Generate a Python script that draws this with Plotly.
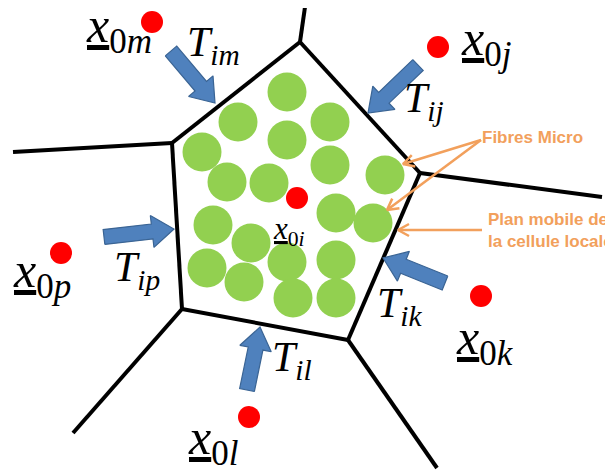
import plotly.graph_objects as go

# ---- data (pixel-space diagram coordinates) ----
cell_x = [300, 420, 348, 182, 172]
cell_y = [42, 173, 340, 309, 143]
spoke_end_x = [306, 602, 437, 73, 13]
spoke_end_y = [0, 197, 468, 433, 152]

fiber_x = [287, 238, 330, 287, 202, 330, 385, 227, 269,
           336, 373, 213, 251, 207, 287, 336, 244, 293, 336]
fiber_y = [92, 122, 122, 140, 152, 165, 175, 182, 183,
           213, 223, 225, 243, 268, 262, 260, 282, 298, 298]

site_names = ["i", "m", "j", "p", "l", "k"]
site_x = [297, 152, 438, 61, 249, 481]
site_y = [198, 22, 47, 253, 417, 296]

# left edge / glyph-centre of the site labels
site_label_x = [275, 88, 463, 15, 190, 458]
site_label_y = [231, 33, 46, 278, 445, 345]

flux_names = ["im", "ij", "ip", "il", "ik"]
flux_tail_x = [171, 418, 104, 247, 445]
flux_tail_y = [51, 65, 237, 390, 283]
flux_tip_x = [215, 368, 174, 260, 383]
flux_tip_y = [103, 113, 229, 327, 258]
flux_label_x = [190, 407, 117, 275, 380]
flux_label_y = [45, 101, 270, 360, 306]

note_texts = ["Fibres Micro", "Plan mobile de<br>la cellule locale"]
note_x = [483, 489]
note_y = [137, 230]
pointer_from_x = [481, 481, 482]
pointer_from_y = [140, 140, 230]
pointer_to_x = [403, 387, 398]
pointer_to_y = [164, 210, 230]

BLACK = "#000000"
GREEN = "#92D050"
RED = "#FF0000"
BLUE = "#4F81BD"
BLUE_EDGE = "#3A6494"
ORANGE = "#F2A05C"

# the page body has an 8px margin: shift the axis ranges so that
# diagram units coincide with window pixels
PAGE_OFFSET = 8

fig = go.Figure()

# cell edges + spokes
ex, ey = [], []
n = len(cell_x)
for i in range(n):
    ex += [cell_x[i], cell_x[(i + 1) % n], None]
    ey += [cell_y[i], cell_y[(i + 1) % n], None]
for i in range(n):
    ex += [cell_x[i], spoke_end_x[i], None]
    ey += [cell_y[i], spoke_end_y[i], None]
fig.add_trace(go.Scatter(x=ex, y=ey, mode="lines",
                         line=dict(color=BLACK, width=4), hoverinfo="skip"))

# fibres
fig.add_trace(go.Scatter(x=fiber_x, y=fiber_y, mode="markers",
                         marker=dict(size=39, color=GREEN, line=dict(width=0)),
                         hoverinfo="skip"))

# sites
fig.add_trace(go.Scatter(x=site_x, y=site_y, mode="markers",
                         marker=dict(size=22, color=RED, line=dict(width=0)),
                         hoverinfo="skip"))

# blue block arrows
SW, HW, HL = 15, 32, 22
for tx, ty, px, py in zip(flux_tail_x, flux_tail_y, flux_tip_x, flux_tip_y):
    dx, dy = px - tx, py - ty
    L = (dx * dx + dy * dy) ** 0.5
    ux, uy = dx / L, dy / L
    nx, ny = -uy, ux
    kx, ky = px - ux * HL, py - uy * HL
    pts = [
        (tx + nx * SW / 2, ty + ny * SW / 2),
        (kx + nx * SW / 2, ky + ny * SW / 2),
        (kx + nx * HW / 2, ky + ny * HW / 2),
        (px, py),
        (kx - nx * HW / 2, ky - ny * HW / 2),
        (kx - nx * SW / 2, ky - ny * SW / 2),
        (tx - nx * SW / 2, ty - ny * SW / 2),
    ]
    pts.append(pts[0])
    fig.add_trace(go.Scatter(x=[p[0] for p in pts], y=[p[1] for p in pts],
                             mode="lines", fill="toself", fillcolor=BLUE,
                             line=dict(color=BLUE_EDGE, width=1.2),
                             hoverinfo="skip"))

# orange pointers with open V heads
ox, oy = [], []
AH, AW = 11, 6
for fx, fy, px, py in zip(pointer_from_x, pointer_from_y, pointer_to_x, pointer_to_y):
    dx, dy = px - fx, py - fy
    L = (dx * dx + dy * dy) ** 0.5
    ux, uy = dx / L, dy / L
    nx, ny = -uy, ux
    bx, by = px - ux * AH, py - uy * AH
    ox += [fx, px, None, bx + nx * AW, px, bx - nx * AW, None]
    oy += [fy, py, None, by + ny * AW, py, by - ny * AW, None]
fig.add_trace(go.Scatter(x=ox, y=oy, mode="lines",
                         line=dict(color=ORANGE, width=2.5), hoverinfo="skip"))

# labels
SERIF = "Liberation Serif"
X_SIZE, XI_SIZE, T_SIZE = 50, 31, 42
for name, lx, ly in zip(site_names, site_label_x, site_label_y):
    size = XI_SIZE if name == "i" else X_SIZE
    fig.add_annotation(x=lx, y=ly, xref="x", yref="y", showarrow=False,
                       text=f"<u><i>x</i></u><sub>0<i>{name}</i></sub>",
                       font=dict(family=SERIF, size=size, color=BLACK),
                       xanchor="left", yanchor="middle",
                       xshift=-4, yshift=0 if name == "i" else 4)
for name, lx, ly in zip(flux_names, flux_label_x, flux_label_y):
    fig.add_annotation(x=lx, y=ly, xref="x", yref="y", showarrow=False,
                       text=f"<i>T</i><sub><i>{name}</i></sub>",
                       font=dict(family=SERIF, size=T_SIZE, color=BLACK),
                       xanchor="left", yanchor="middle",
                       xshift=-5, yshift=0)
for t, lx, ly in zip(note_texts, note_x, note_y):
    fig.add_annotation(x=lx, y=ly, xref="x", yref="y", showarrow=False,
                       text=f"<b>{t}</b>", align="left",
                       font=dict(family="Liberation Sans", size=17, color=ORANGE),
                       xanchor="left", yanchor="middle", xshift=-3)

fig.update_layout(
    width=613, height=470,
    margin=dict(l=0, r=0, t=0, b=0),
    paper_bgcolor="white", plot_bgcolor="white",
    showlegend=False,
    xaxis=dict(range=[PAGE_OFFSET, 613 + PAGE_OFFSET], visible=False, fixedrange=True),
    yaxis=dict(range=[470 + PAGE_OFFSET, PAGE_OFFSET], visible=False, fixedrange=True),
)

fig.write_html("out.html")
